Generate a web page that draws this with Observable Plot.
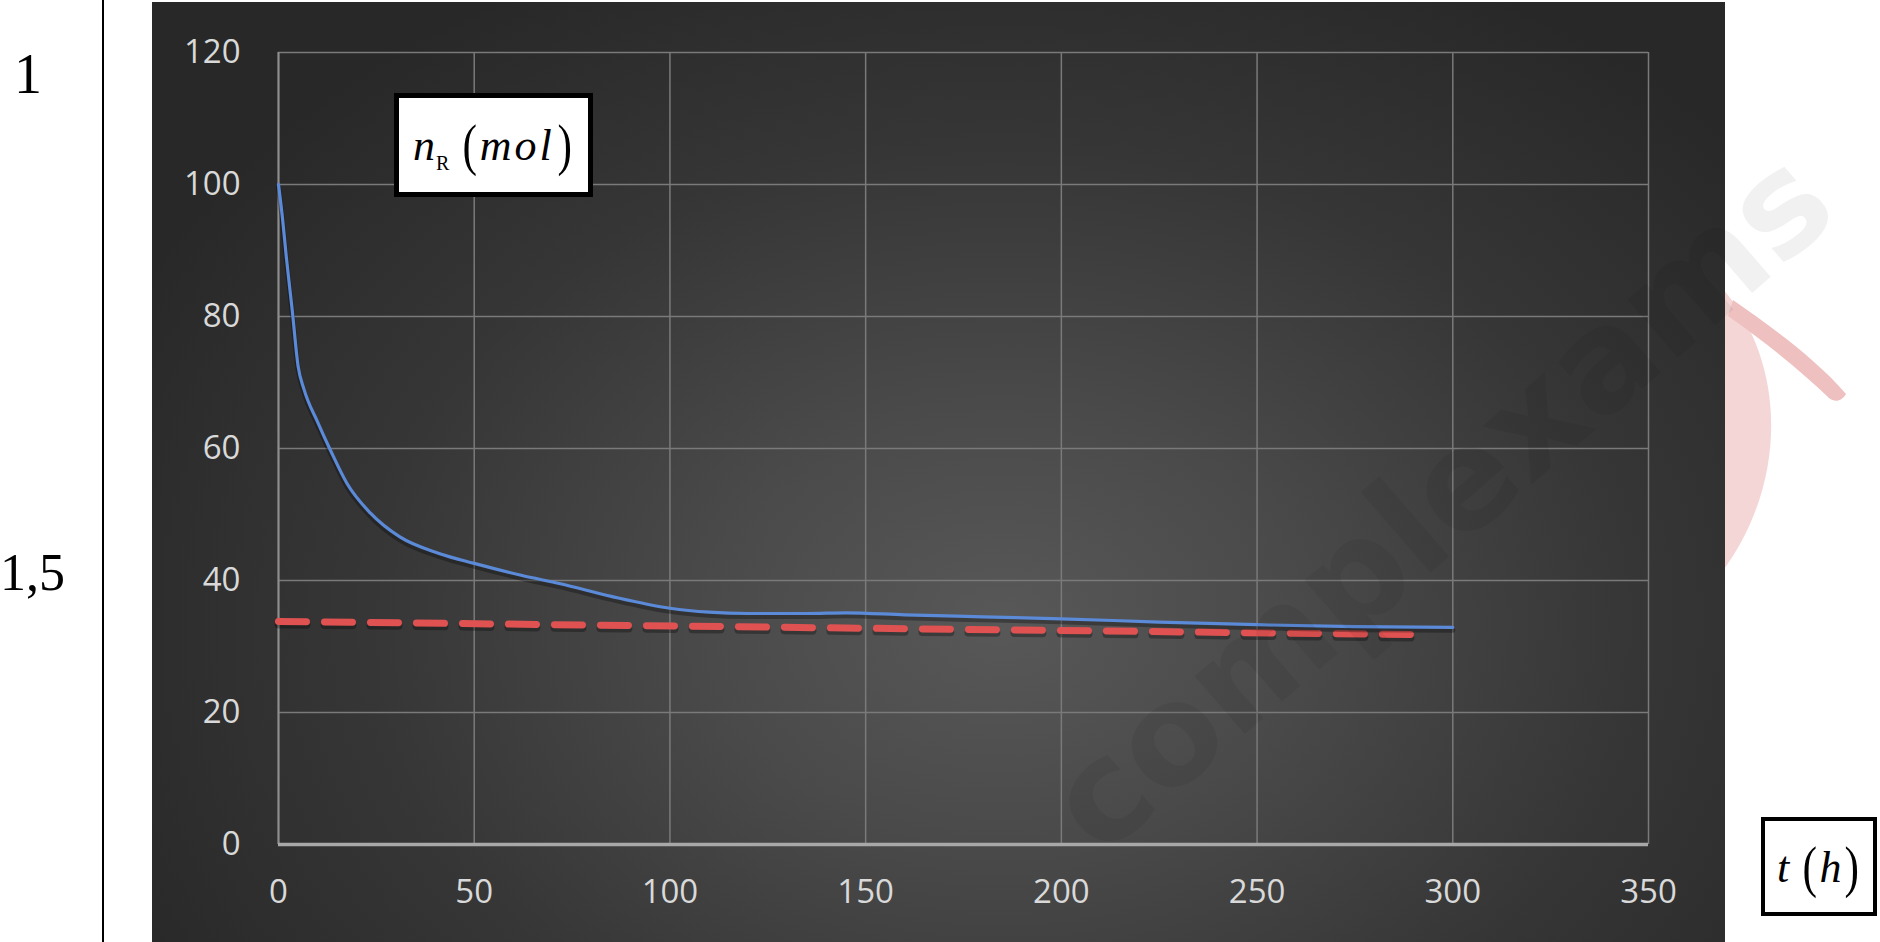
<!DOCTYPE html>
<html>
<head>
<meta charset="utf-8">
<script src="https://cdn.jsdelivr.net/npm/d3@7"></script>
<script src="https://cdn.jsdelivr.net/npm/@observablehq/plot@0.6"></script>
<style>
html, body { margin: 0; padding: 0; background: #fff; }
#page { position: relative; width: 1880px; height: 942px; overflow: hidden; }
#decor { position: absolute; left: 0; top: 0; z-index: 0; }
#panel { position: absolute; left: 152px; top: 2px; width: 1573px; height: 940px; z-index: 1;
  background: radial-gradient(ellipse 62% 78% at 54% 66%, #585858 0%, #4a4a4a 30%, #363636 65%, #282828 100%); }
#panel svg { display: block; }
.box { position: absolute; box-sizing: border-box; background: #fff; border: 5px solid #000; z-index: 2;
  display: flex; align-items: center; justify-content: center; color: #000; white-space: nowrap; }
.box .eq { font-family: "Liberation Serif", "Times New Roman", serif; line-height: 1; }
.box i { font-style: italic; font-family: "Liberation Serif", "Times New Roman", serif; }
.box .p { font-size: 58px; font-weight: 300; display: inline-block; transform: scaleX(0.75); vertical-align: -4px; }
.box .sub { font-size: 20px; font-style: normal; position: relative; top: 10px; margin-left: 1px; }
#wm { position: absolute; left: 0; top: 0; z-index: 3; pointer-events: none; }
</style>
</head>
<body>
<div id="page">
  <svg id="decor" width="1880" height="942">
    <path d="M1722,288 C1785,360 1790,480 1722,572 Z" fill="#f5d6d6"/>
    <path d="M1733,300 C1770,326 1815,358 1846,394 C1842,401 1835,403 1829,398 C1800,370 1765,342 1728,316 Z" fill="#eec0c0"/>
    <line x1="103" y1="0" x2="103" y2="942" stroke="#000" stroke-width="2"/>
    <text x="14" y="93" font-family="Liberation Serif, serif" font-size="56" fill="#000">1</text>
    <text x="0" y="590" font-family="Liberation Serif, serif" font-size="52" fill="#000">1,5</text>
  </svg>
  <div id="panel"></div>
  <div class="box" style="left:394px;top:93px;width:199px;height:104px;">
    <span class="eq" style="font-size:44px;"><i>n</i><span class="sub">R</span>&nbsp;<span class="p">(</span><i style="letter-spacing:3px">mol</i><span class="p">)</span></span>
  </div>
  <div class="box" style="left:1761px;top:817px;width:116px;height:99px;border-width:4px;">
    <span class="eq" style="font-size:44px;"><i>t</i>&nbsp;<span class="p">(</span><i>h</i><span class="p">)</span></span>
  </div>
  <svg id="wm" width="1880" height="942">
    <text transform="translate(1842,215) rotate(-41)" text-anchor="end" font-family="DejaVu Sans, sans-serif" font-weight="bold" font-size="140" fill="#000" fill-opacity="0.055">complexams</text>
  </svg>
</div>
<script>
// Axis ticks
const xTicks = [0, 50, 100, 150, 200, 250, 300, 350];
const yTicks = [0, 20, 40, 60, 80, 100, 120];

// Blue curve: n_R (mol) versus t (h)
const tHours = [0, 1, 2, 3.5, 5, 6.5, 10, 13.3, 17.5, 23.5, 31, 41, 50, 62, 72, 85, 100, 110, 120, 135, 145, 160, 180, 200, 225, 250, 275, 300];
const nR     = [100, 95, 89, 81, 72.5, 69, 64, 59.7, 54.7, 50.2, 46.6, 44.1, 42.6, 40.8, 39.5, 37.6, 35.8, 35.2, 35.0, 35.0, 35.1, 34.8, 34.5, 34.2, 33.7, 33.3, 33.0, 32.9];

// Red dashed reference line
const tRef = [0, 290];
const nRef = [33.8, 31.8];

const blue = tHours.map((t, i) => ({t, n: nR[i]}));
const red = tRef.map((t, i) => ({t, n: nRef[i]}));

const chart = Plot.plot({
  width: 1573,
  height: 940,
  marginLeft: 126,
  marginRight: 77,
  marginTop: 50,
  marginBottom: 98,
  x: {domain: [0, 350]},
  y: {domain: [0, 120]},
  style: {background: "transparent", color: "#d9d9d9", fontFamily: "'Open Sans', sans-serif", fontSize: "33px", overflow: "visible"},
  marks: [
    Plot.gridX(xTicks, {stroke: "#7a7a7a", strokeOpacity: 1, strokeWidth: 1.5}),
    Plot.gridY(yTicks, {stroke: "#7a7a7a", strokeOpacity: 1, strokeWidth: 1.5}),
    Plot.ruleX([0], {stroke: "#8e8e8e", strokeWidth: 2}),
    Plot.ruleY([0], {stroke: "#a8a8a8", strokeWidth: 3.5}),
    Plot.line(red, {x: "t", y: "n", stroke: "#000", strokeOpacity: 0.3, strokeWidth: 8, strokeDasharray: "28 18", dy: 3}),
    Plot.line(red, {x: "t", y: "n", stroke: "#e05252", strokeWidth: 7, strokeDasharray: "28 18"}),
    Plot.line(blue, {x: "t", y: "n", curve: "monotone-x", stroke: "#000", strokeOpacity: 0.3, strokeWidth: 5, dy: 3}),
    Plot.line(blue, {x: "t", y: "n", curve: "monotone-x", stroke: "#5b8ad8", strokeWidth: 3.2}),
    Plot.axisX(xTicks, {tickSize: 0, tickPadding: 35, fill: "#d9d9d9", label: null}),
    Plot.axisY(yTicks, {tickSize: 0, tickPadding: 38, fill: "#d9d9d9", label: null})
  ]
});
document.getElementById("panel").appendChild(chart);
</script>
</body>
</html>
